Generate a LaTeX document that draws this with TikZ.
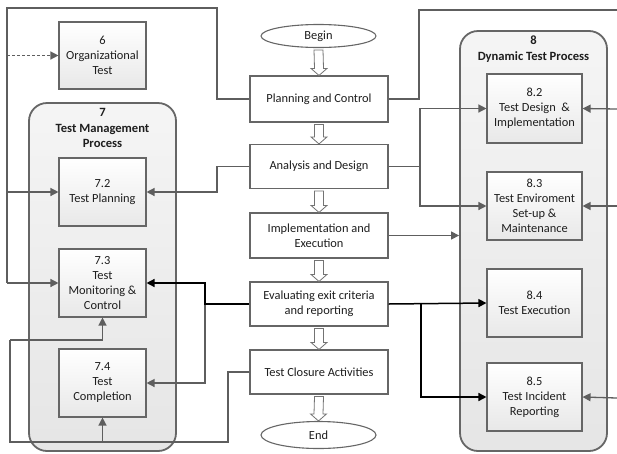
\documentclass[tikz,border=0pt]{standalone}
\usepackage{fontspec}
\setmainfont{Carlito}
\usetikzlibrary{arrows.meta,calc,shapes.geometric,shadows}
\definecolor{lgray}{HTML}{5E5E5E}
\definecolor{bgray}{HTML}{666666}
\definecolor{txt}{HTML}{1E1E1E}
\tikzset{
  pbox/.style={draw=bgray,line width=1.1pt,top color=white,bottom color=black!9,
    minimum width=#1,align=center,text=txt,inner sep=1pt,
    font=\fontsize{12.4}{15}\selectfont},
  cbox/.style={draw=bgray,line width=1.1pt,fill=white,minimum width=138,align=center,text=txt,
    font=\fontsize{12.4}{15}\selectfont},
  cont/.style={draw=bgray,line width=1.8pt,rounded corners=18pt,top color=black!4,bottom color=black!10,
    minimum width=147},
  ttl/.style={align=center,text=txt,font=\fontsize{12.6}{15.5}\selectfont\bfseries},
  oval/.style={ellipse,draw=bgray,line width=1.1pt,fill=white,minimum width=115,text=txt,
    font=\fontsize{12.4}{15}\selectfont,inner sep=0pt},
  conn/.style={draw=lgray,line width=1.3pt},
  bconn/.style={draw=black,line width=1.5pt},
  tip/.style={-{Triangle[length=8pt,width=8pt]}},
  hollow/.style={draw=black!55,line width=0.8pt,fill=white},
}
\newcommand{\harrow}[2]{%
  \draw[hollow] ($(#1.south)+(-4.5,2)$) -- ($(#2.north)+(-4.5,-7)$) -- ($(#2.north)+(-8,-7)$)
   -- (#2.north) -- ($(#2.north)+(8,-7)$) -- ($(#2.north)+(4.5,-7)$) -- ($(#1.south)+(4.5,2)$) -- cycle;}
\begin{document}
\begin{tikzpicture}[x=1pt,y=-1pt]
\useasboundingbox (0,0) rectangle (617,453);
% containers
\node[cont,minimum height=348] (c7) at (102.5,277) {};
\node[cont,minimum height=420] (c8) at (533.5,241) {};
\node[ttl] (c7t) at (102.5,128) {7\\Test Management\\Process};
\node[ttl] (c8t) at (533.5,49) {8\\Dynamic Test Process};
% left boxes
\node[pbox=87,minimum height=67] (o6) at (102.5,55.5) {6\\Organizational\\Test};
\node[pbox=87,minimum height=68] (t72) at (102.5,192) {7.2\\Test Planning};
\node[pbox=87,minimum height=68] (t73) at (102.5,283) {7.3\\Test\\Monitoring \&\\Control};
\node[pbox=87,minimum height=68] (t74) at (102.5,383) {7.4\\Test\\Completion};
% right boxes
\node[pbox=95,minimum height=69] (d82) at (534.5,108.5) {8.2\\Test Design~~\&\\Implementation};
\node[pbox=95,minimum height=68] (d83) at (534.5,206) {8.3\\Test Enviroment\\Set-up \&\\Maintenance};
\node[pbox=95,minimum height=68] (d84) at (534.5,303) {8.4\\Test Execution};
\node[pbox=95,minimum height=68] (d85) at (534.5,397) {8.5\\Test Incident\\Reporting};
% center column
\node[oval,minimum height=23] (bg) at (318.5,36) {Begin};
\node[cbox,minimum height=46] (pc) at (319,99) {Planning and Control};
\node[cbox,minimum height=44] (ad) at (319,166.5) {Analysis and Design};
\node[cbox,minimum height=45] (ie) at (319,235.5) {Implementation and\\Execution};
\node[cbox,minimum height=44] (ev) at (319,304) {Evaluating exit criteria\\and reporting};
\node[cbox,minimum height=44] (tc) at (319,372) {Test Closure Activities};
\node[oval,minimum height=27] (en) at (318.5,435) {End};
\harrow{bg}{pc}
\harrow{pc}{ad}
\harrow{ad}{ie}
\harrow{ie}{ev}
\harrow{ev}{tc}
\harrow{tc}{en}
% coordinates
\coordinate (tl1) at (217,8);
\coordinate (tl2) at (7,8);
\coordinate (tr1) at (419,10);
\coordinate (tr2) at (617,10);
\coordinate (e82) at (617,109);
\coordinate (e83) at (617,206);
\coordinate (e85) at (617,398);
\coordinate (cl1) at (228,442);
\coordinate (cl2) at (10,442);
\coordinate (cl3) at (10,340);
% planning and control connections
\draw[conn] (pc.west) -| (tl1) -- (tl2) -- (7,283);
\draw[conn,tip] (7,283) -- (t73.west);
\draw[conn,tip] (7,192) -- (t72.west);
\draw[conn,tip,dashed,dash pattern=on 3pt off 2pt] (7,55.5) -- (o6.west);
\draw[conn] (pc.east) -| (tr1) -- (tr2);
\draw[conn,tip] (e82) -- (d82.east);
\draw[conn,tip] (e83) -- (d83.east);
\draw[conn,tip] (e85) -- (d85.east);
% analysis and design
\draw[conn,tip] (ad.west) -- (217,166.5) |- (t72.east);
\draw[conn] (ad.east) -- (420,166.5);
\draw[conn,tip] (420,166.5) |- (d82.west);
\draw[conn,tip] (420,166.5) |- (d83.west);
% implementation
\draw[conn,tip] (ie.east) -- (ie.east -| c8.west);
% evaluating
\draw[conn,tip] (205,304) |- (t74.east);
\draw[bconn,tip] (ev.west) -- (205,304) |- (t73.east);
\draw[bconn,tip] (ev.east) -- (d84.west);
\draw[bconn,tip] (421,304) |- (d85.west);
% closure
\draw[conn] (tc.west) -| (cl1) -- (cl2) -- (cl3);
\draw[conn,tip] (cl3) -| (t73.south);
\draw[conn,tip] (t74.south |- cl2) -- (t74.south);
\end{tikzpicture}
\end{document}
